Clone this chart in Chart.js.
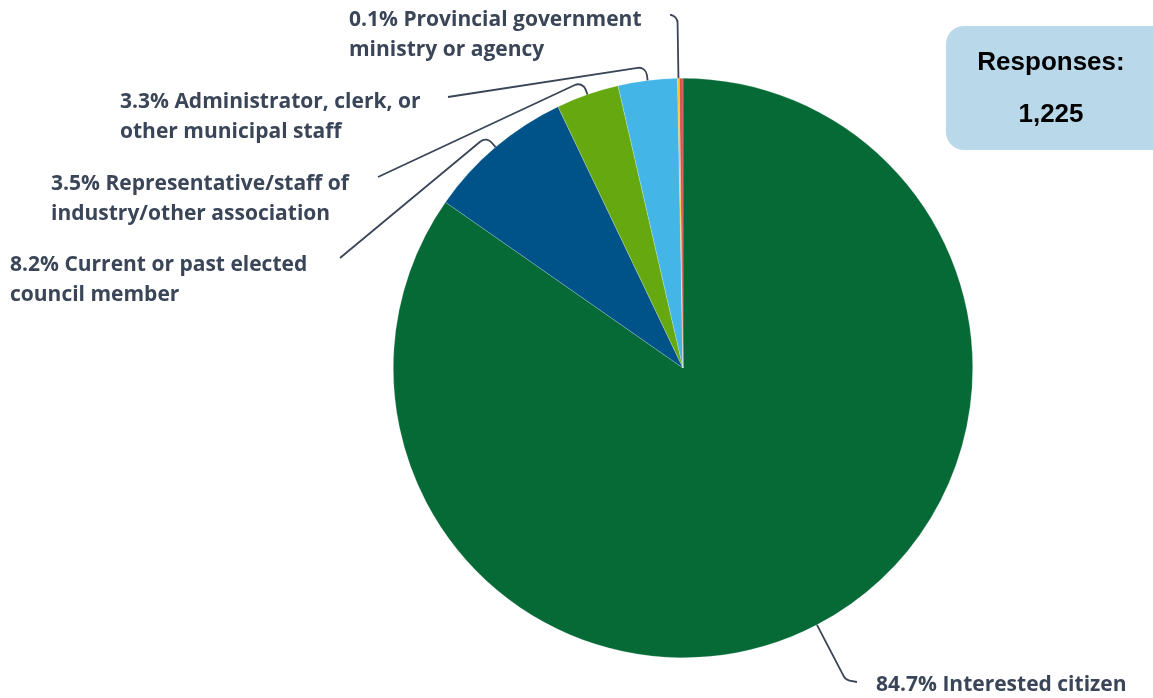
<!DOCTYPE html>
<html>
<head>
<meta charset="utf-8">
<script src="https://cdn.jsdelivr.net/npm/chart.js@4.4.1/dist/chart.umd.min.js"></script>
<style>
  html, body { margin: 0; padding: 0; background: #fff; }
  #wrap { position: relative; width: 1153px; height: 698px; overflow: hidden; }
  #respBox {
    position: absolute; left: 946px; top: 26px; width: 230px; height: 124px;
    background: #b9d9ea; border-radius: 18px;
    font-family: "Liberation Sans", Arial, sans-serif; font-weight: bold; color: #000;
  }
  #respBox div { position: absolute; left: 0; width: 210px; text-align: center; font-size: 26px; line-height: 30px; }
</style>
</head>
<body>
<div id="wrap">
  <canvas id="pieChart" width="1153" height="698"></canvas>
  <div id="respBox"><div style="top:20px">Responses:</div><div style="top:72px">1,225</div></div>
</div>
<script>
// respondent types, clockwise from 12 o'clock
const categories = [
  'Interested citizen',
  'Current or past elected council member',
  'Representative/staff of industry/other association',
  'Administrator, clerk, or other municipal staff',
  'Provincial government ministry or agency',
  'Other'
];
const shares = [84.7, 8.2, 3.5, 3.3, 0.1, 0.2];
const sliceColors = ['#066a36', '#005389', '#66a80f', '#43b5e7', '#f2c315', '#d9534f'];

// callout text, one entry per slice (null = no callout)
const calloutLines = [
  ['84.7% Interested citizen'],
  ['8.2% Current or past elected', 'council member'],
  ['3.5% Representative/staff of', 'industry/other association'],
  ['3.3% Administrator, clerk, or', 'other municipal staff'],
  ['0.1% Provincial government', 'ministry or agency'],
  null
];

// layout for callouts: text origin, line end near text, how far the elbow sits past the rim
const calloutLayout = [
  { x: 876, y: 685, end: [857, 682], ext: 62 },
  { x: 10,  y: 265, end: [340, 258], ext: 14 },
  { x: 51,  y: 184, end: [378, 177], ext: 14 },
  { x: 120, y: 102, end: [448, 97],  ext: 14 },
  { x: 349, y: 20,  end: [672, 15],  ext: 63 },
  null
];

const textColor = '#3a4558';
const labelFont = 'bold 21px "Open Sans", "Noto Sans", sans-serif';

const calloutPlugin = {
  id: 'callouts',
  afterDatasetsDraw(chart) {
    const ctx = chart.ctx;
    const arcs = chart.getDatasetMeta(0).data;
    ctx.save();
    arcs.forEach((arc, i) => {
      const lay = calloutLayout[i];
      if (!lay) return;
      const mid = (arc.startAngle + arc.endAngle) / 2;
      const r = arc.outerRadius;
      const rx = arc.x + Math.cos(mid) * r;
      const ry = arc.y + Math.sin(mid) * r;
      const ex = arc.x + Math.cos(mid) * (r + lay.ext);
      const ey = arc.y + Math.sin(mid) * (r + lay.ext);
      ctx.beginPath();
      ctx.moveTo(rx, ry);
      ctx.arcTo(ex, ey, lay.end[0], lay.end[1], 8);
      ctx.lineTo(lay.end[0], lay.end[1]);
      ctx.strokeStyle = '#3a4558';
      ctx.lineWidth = 1.8;
      ctx.stroke();
    });

    ctx.font = labelFont;
    ctx.textBaseline = 'middle';
    ctx.textAlign = 'left';
    ctx.lineJoin = 'round';
    calloutLines.forEach((lines, i) => {
      const lay = calloutLayout[i];
      if (!lines) return;
      lines.forEach((t, k) => {
        const y = lay.y + k * 30;
        ctx.strokeStyle = 'rgba(255,255,255,0.9)';
        ctx.lineWidth = 3;
        ctx.strokeText(t, lay.x, y);
        ctx.fillStyle = textColor;
        ctx.fillText(t, lay.x, y);
      });
    });
    ctx.restore();
  }
};

new Chart(document.getElementById('pieChart'), {
  type: 'pie',
  data: {
    labels: categories,
    datasets: [{
      data: shares,
      backgroundColor: sliceColors,
      borderColor: 'rgba(255,255,255,0.35)',
      borderWidth: 0.6
    }]
  },
  options: {
    responsive: false,
    animation: false,
    layout: { padding: { left: 393, right: 180, top: 78, bottom: 40 } },
    plugins: {
      legend: { display: false },
      tooltip: { enabled: false }
    }
  },
  plugins: [calloutPlugin]
});
</script>
</body>
</html>
